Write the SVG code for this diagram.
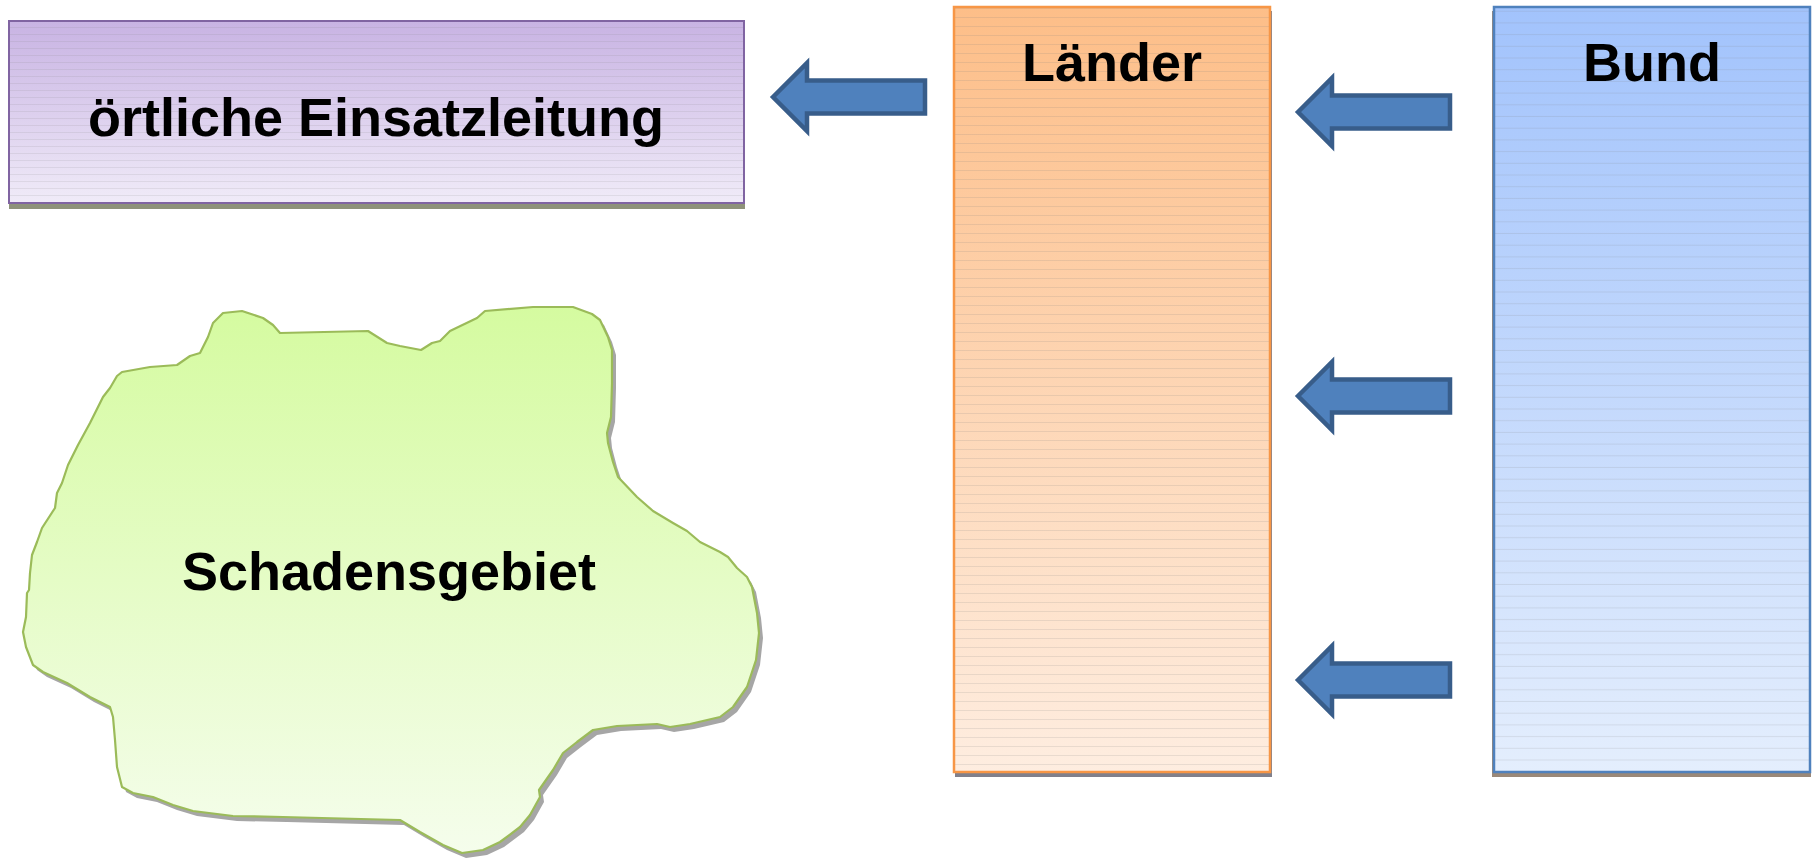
<svg xmlns="http://www.w3.org/2000/svg" width="1813" height="859" viewBox="0 0 1813 859">
<defs>
<linearGradient id="gPurple" x1="0" y1="0" x2="0" y2="1"><stop offset="0" stop-color="#C8B3E3"/><stop offset="1" stop-color="#F0EBF8"/></linearGradient>
<linearGradient id="gOrange" x1="0" y1="0" x2="0" y2="1"><stop offset="0" stop-color="#FDBE88"/><stop offset="1" stop-color="#FEEDE0"/></linearGradient>
<linearGradient id="gBlue" x1="0" y1="0" x2="0" y2="1"><stop offset="0" stop-color="#A2C3FC"/><stop offset="1" stop-color="#E4EEFD"/></linearGradient>
<linearGradient id="gGreen" x1="0" y1="0" x2="0" y2="1"><stop offset="0" stop-color="#D5FBA0"/><stop offset="1" stop-color="#F5FDEC"/></linearGradient>
<pattern id="lines9" width="20" height="9" patternUnits="userSpaceOnUse"><rect x="0" y="8" width="20" height="1" fill="#808080" fill-opacity="0.16"/></pattern>
<pattern id="lines7" width="20" height="7" patternUnits="userSpaceOnUse"><rect x="0" y="6" width="20" height="1" fill="#808080" fill-opacity="0.14"/></pattern>
<pattern id="lines12" width="20" height="11.7" patternUnits="userSpaceOnUse"><rect x="0" y="10.7" width="20" height="1" fill="#808080" fill-opacity="0.16"/></pattern>
<path id="arrowShape" d="M0,0 L34,-34 L34,-16.5 L152,-16.5 L152,16.5 L34,16.5 L34,34 Z"/>
</defs>
<style>
.lbl{font-family:"Liberation Sans",Arial,sans-serif;font-weight:bold;font-size:54px;fill:#000;text-anchor:middle}
.arrow{fill:#4F81BD;stroke:#385D8A;stroke-width:4.5;stroke-linejoin:miter}
</style>
<rect width="1813" height="859" fill="#FFFFFF"/>

<g id="oertliche-einsatzleitung">
<rect x="9" y="26" width="736" height="183" fill="#8E927A"/>
<rect x="9" y="21" width="735" height="182" fill="url(#gPurple)"/>
<rect x="9" y="21" width="735" height="182" fill="url(#lines7)"/>
<rect x="9" y="21" width="735" height="182" fill="none" stroke="#8064A2" stroke-width="2"/>
<text class="lbl" x="376" y="136">örtliche Einsatzleitung</text>
</g>

<g id="laender">
<rect x="955" y="11" width="317" height="766" fill="#80808C"/>
<rect x="954" y="7" width="316" height="765" fill="url(#gOrange)"/>
<rect x="954" y="7" width="316" height="765" fill="url(#lines9)"/>
<rect x="954" y="7" width="316" height="765" fill="none" stroke="#F79646" stroke-width="2.5"/>
<text class="lbl" x="1112" y="81">Länder</text>
</g>

<g id="bund">
<rect x="1492" y="11" width="319" height="766" fill="#9A8878"/>
<rect x="1494" y="7" width="316" height="765" fill="url(#gBlue)"/>
<rect x="1494" y="7" width="316" height="765" fill="url(#lines12)"/>
<rect x="1494" y="7" width="316" height="765" fill="none" stroke="#4F81BD" stroke-width="2.5"/>
<text class="lbl" x="1652" y="81">Bund</text>
</g>

<g id="schadensgebiet">
<path id="blobShadow" transform="translate(4,5)" fill="#A6A6A6" d="M280,333 L368,331 L387,343 L400,346 L421,350 L432,343 L440,341 L450,331 L477,318 L485,311 L533,307 L573,307 L592,314 L600,320 L608,337 L612,350 L612,383 L611,417 L607,433 L608,443 L613,462 L618,477 L637,497 L653,511 L673,523 L687,531 L700,542 L720,552 L728,557 L737,568 L747,577 L752,587 L757,613 L759,633 L756,660 L747,687 L733,707 L720,717 L690,724 L670,727 L657,724 L617,726 L593,730 L577,742 L563,753 L553,770 L539,790 L540,797 L530,815 L520,827 L500,842 L483,850 L462,853 L443,845 L420,832 L400,820 L283,817 L233,816 L193,811 L173,805 L153,797 L133,793 L122,787 L117,767 L115,740 L113,717 L110,707 L90,697 L67,683 L43,672 L33,665 L26,647 L23,632 L26,617 L27,593 L29,590 L30,573 L32,555 L37,542 L42,528 L55,508 L57,493 L62,483 L68,465 L78,445 L90,423 L103,397 L110,388 L117,376 L122,372 L150,367 L177,365 L190,356 L200,353 L208,337 L213,323 L223,313 L242,311 L263,318 L273,325 Z"/>
<path id="blob" fill="url(#gGreen)" d="M280,333 L368,331 L387,343 L400,346 L421,350 L432,343 L440,341 L450,331 L477,318 L485,311 L533,307 L573,307 L592,314 L600,320 L608,337 L612,350 L612,383 L611,417 L607,433 L608,443 L613,462 L618,477 L637,497 L653,511 L673,523 L687,531 L700,542 L720,552 L728,557 L737,568 L747,577 L752,587 L757,613 L759,633 L756,660 L747,687 L733,707 L720,717 L690,724 L670,727 L657,724 L617,726 L593,730 L577,742 L563,753 L553,770 L539,790 L540,797 L530,815 L520,827 L500,842 L483,850 L462,853 L443,845 L420,832 L400,820 L283,817 L233,816 L193,811 L173,805 L153,797 L133,793 L122,787 L117,767 L115,740 L113,717 L110,707 L90,697 L67,683 L43,672 L33,665 L26,647 L23,632 L26,617 L27,593 L29,590 L30,573 L32,555 L37,542 L42,528 L55,508 L57,493 L62,483 L68,465 L78,445 L90,423 L103,397 L110,388 L117,376 L122,372 L150,367 L177,365 L190,356 L200,353 L208,337 L213,323 L223,313 L242,311 L263,318 L273,325 Z"/>
<use href="#blob" fill="url(#lines9)"/>
<use href="#blob" fill="none" stroke="#9BBB59" stroke-width="2.2" stroke-linejoin="round"/>
<text class="lbl" x="389" y="590">Schadensgebiet</text>
</g>

<g id="connectors">
<use href="#arrowShape" class="arrow" transform="translate(773,97)"/>
<use href="#arrowShape" class="arrow" transform="translate(1298,112)"/>
<use href="#arrowShape" class="arrow" transform="translate(1298,396)"/>
<use href="#arrowShape" class="arrow" transform="translate(1298,680)"/>
</g>
</svg>
